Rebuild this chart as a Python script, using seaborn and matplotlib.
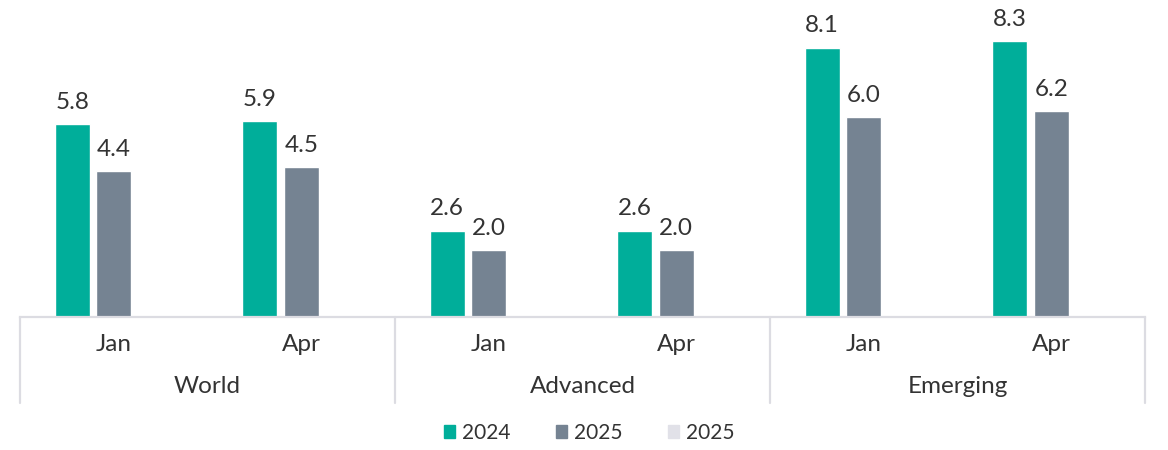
import pandas as pd
import numpy as np
import matplotlib
matplotlib.use("Agg")
import matplotlib.pyplot as plt
import seaborn as sns

groups = ["World", "Advanced", "Emerging"]
months = ["Jan", "Apr"]
series = ["2024", "2025", "2025 "]
values_2024 = [5.8, 5.9, 2.6, 2.6, 8.1, 8.3]
values_2025 = [4.4, 4.5, 2.0, 2.0, 6.0, 6.2]
values_2025b = [np.nan] * 6
colors = ["#00ae9a", "#758392", "#e1e1e8"]

cats = [f"{g}-{m}" for g in groups for m in months]
df = pd.DataFrame({
    "cat": cats * 3,
    "series": [s for s in series for _ in cats],
    "value": values_2024 + values_2025 + values_2025b,
})

sns.set_theme(style="white")
plt.rcParams["font.family"] = ["Lato", "DejaVu Sans"]
text_color = "#333333"
line_color = "#dcdce2"

fig = plt.figure(figsize=(11.68, 4.5), dpi=100)
ax = fig.add_axes([20 / 1168, 133 / 450, 1125 / 1168, 317 / 450])

sns.barplot(data=df, x="cat", y="value", hue="series", order=cats,
            hue_order=series, palette=colors, width=0.665, gap=0.16,
            saturation=1, ax=ax, legend=False)

ax.set_ylim(0, 9.53)
ax.set_xlim(-0.5, 5.5)
for c in ax.containers[:2]:
    ax.bar_label(c, fmt="%.1f", padding=8, fontsize=17.5, color=text_color)

sns.despine(ax=ax, left=True, top=True, right=True)
ax.spines["bottom"].set_color(line_color)
ax.spines["bottom"].set_linewidth(1.6)
ax.set_yticks([])
ax.set_xticks([])
ax.set_xlabel("")
ax.set_ylabel("")

# group separators and two-level x labels
trans = ax.get_xaxis_transform()
for x in [-0.5, 1.5, 3.5, 5.5]:
    ax.plot([x, x], [0, -0.272], transform=trans, color=line_color,
            lw=1.6, clip_on=False)
for i, c in enumerate(cats):
    ax.text(i, -0.088, c.split("-")[1], transform=trans, ha="center",
            va="center", fontsize=17.5, color=text_color)
for j, g in enumerate(groups):
    ax.text(2 * j + 0.5, -0.218, g, transform=trans, ha="center",
            va="center", fontsize=17.5, color=text_color)

handles = [plt.Rectangle((0, 0), 1, 1, color=c) for c in colors]
fig.legend(handles, ["2024", "2025", "2025"], loc="center",
           bbox_to_anchor=(589 / 1168, 1 - 433 / 450), ncol=3, frameon=False,
           fontsize=15, handlelength=0.55, handleheight=0.55,
           handletextpad=0.3, columnspacing=2.2, labelcolor=text_color)

fig.savefig("out.png", dpi=100)
